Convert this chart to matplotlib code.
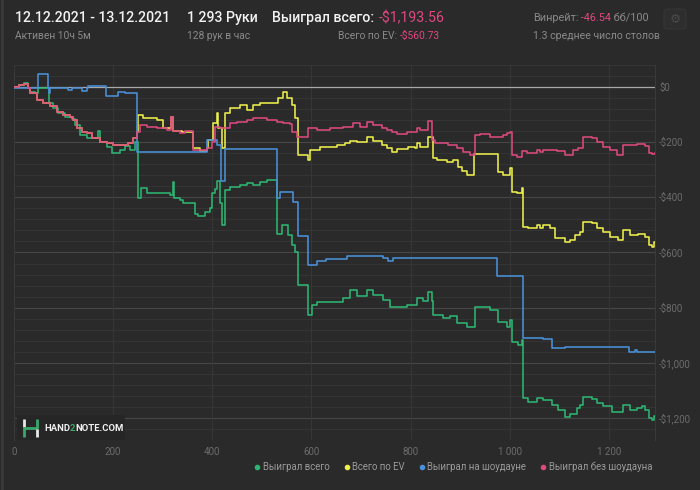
import matplotlib
matplotlib.use('Agg')
import matplotlib.pyplot as plt
from matplotlib.lines import Line2D
from matplotlib.patches import Rectangle, FancyBboxPatch

# ---- data (hands, dollars) ----
green_x = [0, 10, 20, 28, 32, 42, 48, 70, 79, 89, 103, 117, 123, 133, 147, 170, 174, 188, 198,
           214, 224, 234, 244, 250, 256, 268, 315, 320, 323, 335, 341, 365, 371, 385, 395, 400,
           406, 410, 415, 420, 426, 436, 456, 470, 482, 496, 511, 531, 541, 553, 561, 567, 573,
           593, 601, 611, 664, 678, 692, 712, 724, 745, 759, 793, 813, 825, 835, 844, 846, 866,
           880, 894, 914, 930, 961, 977, 995, 1001, 1005, 1017, 1025, 1027, 1037, 1055, 1068,
           1086, 1098, 1112, 1122, 1136, 1142, 1148, 1166, 1177, 1189, 1207, 1219, 1229, 1243,
           1257, 1267, 1273, 1281, 1287, 1290, 1293]
green_y = [0, 8, 14, -5, -18, -22, -4, -58, -76, -95, -108, -116, -137, -174, -185, -159, -199,
           -217, -239, -228, -213, -228, -199, -402, -366, -384, -390, -344, -402, -410, -420,
           -460, -467, -452, -440, -384, -370, -340, -420, -500, -373, -362, -355, -348, -355,
           -344, -337, -533, -500, -536, -572, -598, -717, -826, -790, -779, -765, -736, -758,
           -736, -754, -772, -797, -790, -765, -775, -743, -775, -826, -837, -830, -855, -869,
           -797, -810, -851, -869, -844, -924, -935, -917, -1127, -1141, -1127, -1135, -1152,
           -1170, -1196, -1185, -1163, -1152, -1123, -1130, -1145, -1155, -1177, -1180, -1152,
           -1170, -1163, -1155, -1170, -1199, -1206, -1194, -1194]

ev_x = [0, 10, 20, 28, 32, 46, 59, 73, 87, 99, 113, 119, 127, 137, 147, 157, 174, 188, 200,
        230, 240, 248, 250, 260, 289, 301, 317, 321, 339, 361, 375, 389, 391, 402, 410, 412,
        420, 426, 436, 456, 470, 482, 496, 533, 543, 551, 561, 567, 573, 593, 597, 618, 652,
        668, 678, 692, 712, 724, 743, 753, 763, 773, 795, 809, 813, 819, 835, 846, 854, 874,
        886, 896, 904, 914, 928, 977, 987, 1001, 1005, 1015, 1025, 1027, 1037, 1055, 1061,
        1068, 1082, 1092, 1112, 1122, 1132, 1142, 1148, 1166, 1177, 1189, 1203, 1219, 1229,
        1243, 1259, 1273, 1281, 1287, 1290, 1293]
ev_y = [0, 8, 12, -5, -20, -47, -58, -70, -90, -101, -108, -120, -149, -163, -167, -185, -199,
        -203, -210, -203, -185, -163, -101, -112, -120, -149, -108, -159, -163, -221, -232,
        -221, -192, -130, -94, -150, -221, -94, -76, -65, -83, -65, -58, -40, -17, -40, -65,
        -112, -246, -265, -228, -217, -210, -203, -195, -200, -181, -195, -210, -221, -235,
        -226, -217, -221, -203, -217, -181, -257, -265, -271, -265, -289, -306, -319, -242,
        -308, -319, -293, -380, -384, -366, -507, -511, -500, -511, -500, -511, -547, -561,
        -555, -536, -525, -489, -493, -511, -525, -543, -554, -518, -536, -532, -543, -572,
        -580, -561, -561]

sd_x = [0, 48, 69, 70, 73, 109, 117, 137, 147, 149, 186, 210, 224, 248, 389, 410, 418, 426,
        531, 537, 563, 573, 593, 611, 630, 672, 745, 755, 765, 975, 1027, 1068, 1086, 1112,
        1241, 1253, 1257, 1293]
sd_y = [-3, 47, -3, -20, -3, -12, -3, -15, -3, 3, -33, -17, -22, -235, -192, -210, -340, -225,
        -402, -380, -417, -540, -645, -632, -623, -612, -620, -632, -620, -685, -909, -915,
        -946, -942, -960, -953, -960, -962]

nsd_x = [0, 10, 20, 28, 32, 46, 59, 73, 87, 99, 113, 119, 127, 137, 147, 157, 174, 188, 200,
         230, 240, 248, 254, 268, 289, 309, 317, 321, 335, 345, 361, 389, 400, 406, 416, 436,
         450, 470, 482, 511, 531, 543, 557, 561, 571, 593, 611, 638, 664, 684, 698, 712, 724,
         743, 753, 763, 773, 793, 813, 819, 835, 844, 850, 876, 894, 906, 920, 930, 940, 961,
         987, 995, 1001, 1005, 1015, 1025, 1035, 1055, 1061, 1068, 1096, 1112, 1128, 1138,
         1148, 1166, 1177, 1189, 1203, 1217, 1229, 1257, 1273, 1281, 1287, 1293]
nsd_y = [0, 8, 12, -5, -20, -47, -58, -70, -90, -101, -108, -120, -149, -163, -167, -185, -199,
         -203, -210, -203, -185, -163, -138, -145, -149, -156, -108, -160, -167, -160, -228,
         -220, -199, -145, -149, -130, -127, -120, -112, -118, -127, -130, -135, -163, -181,
         -149, -156, -150, -145, -130, -145, -127, -138, -149, -156, -163, -170, -163, -149,
         -156, -123, -192, -203, -210, -221, -235, -246, -174, -170, -181, -174, -167, -163,
         -246, -253, -232, -239, -228, -235, -228, -232, -246, -228, -220, -181, -185, -199,
         -217, -228, -246, -210, -206, -214, -239, -243, -240]

series_names = ['Выиграл всего', 'Всего по EV', 'Выиграл на шоудауне', 'Выиграл без шоудауна']
series_colors = ['#2db673', '#eeee4c', '#4a90d9', '#dc4a7e']

x_ticks = [0, 200, 400, 600, 800, 1000, 1200]
x_tick_labels = ['0', '200', '400', '600', '800', '1 000', '1 200']
y_ticks = [0, -200, -400, -600, -800, -1000, -1200]
y_tick_labels = ['$0', '-$200', '-$400', '-$600', '-$800', '-$1,000', '-$1,200']

BG = '#2a2a2a'
W, H = 700, 490
FONT = ['Roboto', 'DejaVu Sans']
plt.rcParams['font.family'] = FONT

fig = plt.figure(figsize=(7, 4.9), dpi=100, facecolor=BG)
ax = fig.add_axes([14 / W, 1 - 440 / H, 641 / W, 375 / H])
ax.set_facecolor(BG)

# grid: minor every $40, stronger every $200
for v in range(-1280, 81, 40):
    if v == 0:
        continue
    ax.axhline(v, color='#474747' if v % 200 == 0 else '#343434', lw=0.8, zorder=0)
for xv in x_ticks:
    ax.axvline(xv, color='#363636', lw=0.8, zorder=0)
ax.axhline(0, color='#a8a8a8', lw=0.9, zorder=1)

lw = 1.15
ax.plot(green_x, green_y, drawstyle='steps-post', color=series_colors[0], lw=lw, zorder=3)
ax.plot(ev_x, ev_y, drawstyle='steps-post', color=series_colors[1], lw=lw, zorder=3)
ax.plot(sd_x, sd_y, drawstyle='steps-post', color=series_colors[2], lw=lw, zorder=3)
ax.plot(nsd_x, nsd_y, drawstyle='steps-post', color=series_colors[3], lw=lw, zorder=4)

ax.set_xlim(0, 1293)
ax.set_ylim(-1280, 80)
ax.set_xticks(x_ticks, x_tick_labels)
ax.set_yticks(y_ticks, y_tick_labels)
ax.yaxis.tick_right()
ax.tick_params(axis='both', length=0, labelsize=7, colors='#6c6c6c')
ax.tick_params(axis='y', pad=3)
ax.tick_params(axis='x', pad=5)
for lab in ax.get_yticklabels():
    lab.set_horizontalalignment('left')
for s in ['top', 'bottom']:
    ax.spines[s].set_visible(False)
for s in ['left', 'right']:
    ax.spines[s].set_color('#393939')
    ax.spines[s].set_linewidth(0.8)

# legend
handles = [Line2D([], [], ls='none', marker='o', ms=3.0, color=c) for c in series_colors]
leg = fig.legend(handles, series_names, loc='center right', bbox_to_anchor=(661 / W, 1 - 467 / H),
                 ncol=4, frameon=False, fontsize=6.9, labelcolor='#9a9a9a',
                 handletextpad=0.1, columnspacing=1.25, handlelength=1.0)

# logo
fig.patches.append(Rectangle((17 / W, 1 - 440 / H), 108 / W, 25 / H, transform=fig.transFigure,
                             facecolor='#262626', edgecolor='none', zorder=1))


def seg(x0, y0, x1, y1, c, lw=2.0):
    fig.add_artist(Line2D([x0 / W, x1 / W], [1 - y0 / H, 1 - y1 / H], color=c, lw=lw,
                          solid_capstyle='butt', zorder=6))


seg(24, 419, 24, 427, '#e8e8e8')
seg(24, 427, 24, 437, '#3aa86b')
seg(23, 428, 38, 428, '#3aa86b')
seg(37, 419, 37, 428, '#3aa86b')
seg(37, 429, 37, 437, '#e8e8e8')
logo_parts = [('HAND', '#f0f0f0'), ('2', '#3aa86b'), ('NOTE.COM', '#f0f0f0')]


def text_row(x_px, y_px, pieces, size, align='left', weight='normal'):
    objs = [fig.text(0, 0, s, color=c, fontsize=size, va='center', ha='left',
                     fontweight=weight, family=FONT, zorder=6) for s, c in pieces]
    r = fig.canvas.get_renderer()
    widths = [t.get_window_extent(r).width for t in objs]
    start = x_px if align == 'left' else x_px - sum(widths)
    for t, w in zip(objs, widths):
        t.set_position((start / W, 1 - y_px / H))
        start += w


text_row(44, 428.5, logo_parts, 6.8, weight='bold')

# header
WHITE, GREY, PINK = '#f2f2f2', '#8a8a8a', '#e0487f'
text_row(15, 18, [('12.12.2021 - 13.12.2021', WHITE)], 10.2, weight='medium')
text_row(15, 36, [('Активен 10ч 5м', GREY)], 7.4)
text_row(187, 18, [('1 293 Руки', WHITE)], 10.2, weight='medium')
text_row(187, 36, [('128 рук в час', GREY)], 7.4)
text_row(374, 18, [('Выиграл всего:', WHITE)], 10.2, align='right', weight='medium')
text_row(379, 18, [('-$1,193.56', PINK)], 10.2)
text_row(397, 36, [('Всего по EV:', GREY)], 7.4, align='right')
text_row(400, 36, [('-$560.73', PINK)], 7.4)
text_row(533, 18, [('Винрейт:', GREY), (' -46.54', PINK), (' бб/100', GREY)], 7.8)
text_row(533, 36, [('1.3 среднее число столов', GREY)], 7.6)

fig.patches.append(FancyBboxPatch((664 / W, 1 - 29 / H), 22 / W, 20 / H,
                                  boxstyle='round,pad=0,rounding_size=0.006',
                                  transform=fig.transFigure, facecolor='#2e2e2e',
                                  edgecolor='#363636', lw=0.8))
fig.text(675 / W, 1 - 19 / H, '⚙', color='#4a4a4a', fontsize=9, ha='center', va='center',
         family=['DejaVu Sans'])

fig.add_artist(Line2D([1.5 / W, 1.5 / W], [0, 1], color='#3a3a3a', lw=2))

fig.savefig('out.png', dpi=100, facecolor=BG)
